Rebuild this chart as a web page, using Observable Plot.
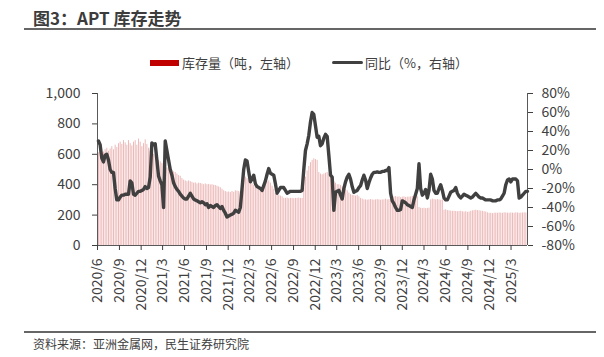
<!DOCTYPE html>
<html>
<head>
<meta charset="utf-8">
<script src="https://cdn.jsdelivr.net/npm/d3@7"></script>
<script src="https://cdn.jsdelivr.net/npm/@observablehq/plot@0.6"></script>
<style>
  html, body { margin: 0; padding: 0; background: #fff; }
  #wrap { position: relative; width: 604px; height: 357px; overflow: hidden;
          font-family: "Noto Sans CJK SC", "Noto Sans", sans-serif; color: #404040; }
  .title { position: absolute; left: 33px; top: 9px; font-size: 17px; line-height: 17px;
           font-weight: 700; color: #3c3c3c; white-space: nowrap; }
  .rule { position: absolute; left: 24px; width: 572px; height: 1.5px; background: #666; }
  .leg { position: absolute; top: 55.5px; font-size: 13px; line-height: 13px; white-space: nowrap; color: #404040; }
  .sw { position: absolute; }
  .src { position: absolute; left: 33px; top: 337px; font-size: 12px; line-height: 13px; white-space: nowrap; color: #404040; }
  #chart { position: absolute; left: 0; top: 80px; }
</style>
</head>
<body>
<div id="wrap">
  <div class="title">图3：APT 库存走势</div>
  <div class="rule" style="top:28px"></div>
  <div class="sw" style="left:150px;top:59.5px;width:29px;height:6px;background:#c00000"></div>
  <div class="leg" style="left:182px">库存量（吨，左轴）</div>
  <div class="sw" style="left:332px;top:60.5px;width:31px;height:3.5px;background:#404040;border-radius:2px"></div>
  <div class="leg" style="left:365px">同比（%，右轴）</div>
  <div id="chart"></div>
  <div class="rule" style="top:331px"></div>
  <div class="src">资料来源：亚洲金属网，民生证券研究院</div>
</div>
<script>
// Weekly observations, first week ending 2020-06-05
const firstWeek = [2020, 5, 5];
const stockTons = [
  610, 625, 600, 615, 630,
  640, 620, 635, 650, 630, 660, 645,
  670, 680, 665, 690, 675, 660, 690, 670, 655, 680,
  690, 660, 700, 680, 650, 670, 695, 665,
  640, 620, 600,
  600, 590, 580, 560, 550,
  540, 530, 520, 510, 515, 505,
  495, 485, 480, 470, 460, 455,
  440, 430, 425, 420, 425, 420,
  415, 410, 412, 405, 410, 408, 404, 400, 405,
  400, 402, 398, 400, 396, 395,
  390, 385, 380, 370, 360, 355,
  350, 352, 348, 355, 350, 360, 358, 355, 350,
  400, 430, 450, 440, 430, 420,
  405, 395, 385, 380, 378, 375, 372, 380, 400,
  420, 425, 410, 390, 370,
  340, 330, 330, 325, 320,
  310, 310, 312, 308, 310, 310, 308, 310, 310, 312, 310, 310,
  380, 450, 490, 520, 545, 560,
  570, 565, 560,
  480, 470, 465, 470, 475, 480,
  470, 450, 440, 420,
  410, 400, 400, 395, 385, 380, 370, 360, 345,
  335, 330, 330, 325, 330, 320,
  310, 305, 300, 300, 298, 300, 302, 300, 298, 300, 302, 300, 298, 300,
  300, 305, 300, 302,
  320, 318, 320, 322, 318, 320, 315, 318, 320, 316, 318, 318, 320, 322, 320, 318, 320,
  250, 245, 243, 245, 242, 244, 246,
  300, 305, 302, 300, 302, 300, 298, 300,
  232, 235, 230, 228, 226, 225, 225, 224, 222, 224, 225, 222, 220, 222, 218, 220, 225, 228, 230,
  232, 230, 228, 226, 225, 222, 220, 215, 212, 212,
  210, 212, 213, 212, 214, 213, 212, 215, 214, 213, 212, 214, 213, 212, 215, 214, 212, 213, 214, 215, 214, 215
];
const yoyPct = [
  30, 26, 12, 8, 15, 16, 10, 0, -3, -3,
  -20, -32, -32, -29, -27, -27, -26, -26, -26, -12,
  -14, -26, -27, -25, -23, -23, -22, -21, -18, -20,
  -19, -8, 28, 26, 27, 10, -7, -12, -16, -40,
  30, 20, 10, 0, -6, -14, -18, -21, -23, -26,
  -28, -30, -31, -31, -28, -25, -28, -31, -32, -33,
  -34, -35, -34, -35, -37, -36, -40, -38, -39, -40,
  -38, -37, -39, -41, -39, -43, -46, -50, -49, -48,
  -47, -46, -43, -44, -45, -40, -20, 0, 10, 9,
  -2, -13, -10, -6, -15, -18, -19, -20, -22, -17,
  -12, -5, 1, -4, -5, -6, -15, -25, -22, -19,
  -19, -19, -22, -25, -24, -23, -23, -23, -23, -23,
  -23, -23, -22, 0, 20, 27, 36, 50, 60, 58,
  46, 34, 35, 25, 27, 33, 37, 35, 15, -6,
  -8, -43, -24, -23, -22, -27, -31, -20, -13, -8,
  -5, -10, -18, -24, -23, -22, -19, -17, -11, -6,
  -11, -20, -14, -9, -5, -3, -3, -2.5, -3, -3,
  -2, -2, -1, -1, 2, -25, -33, -36, -40, -43,
  -43, -42, -33, -34, -35, -37, -38, -39, -40, -32,
  -26, -20, 6, -20, -27, -25, -21, -30, -22, -5,
  -10, -22, -25, -25, -20, -16, -22, -30, -32, -32,
  -28, -24, -23, -22, -19, -25, -28, -30, -28, -26,
  -27, -28, -29, -30, -29, -27, -25, -27, -29, -30,
  -30, -31, -32, -32, -32, -32, -33, -33, -33, -32,
  -32, -31, -28, -25, -16, -11, -10, -13, -10, -10,
  -10, -12, -30, -29, -27, -25, -23, -23
];
const xTickLabels = ["2020/6","2020/9","2020/12","2021/3","2021/6","2021/9","2021/12","2022/3","2022/6","2022/9","2022/12","2023/3","2023/6","2023/9","2023/12","2024/3","2024/6","2024/9","2024/12","2025/3"];
const leftTicks = [0, 200, 400, 600, 800, 1000];
const rightTicks = [-80, -60, -40, -20, 0, 20, 40, 60, 80];

const data = stockTons.map((s, i) => ({
  date: new Date(Date.UTC(firstWeek[0], firstWeek[1], firstWeek[2] + 7 * i)),
  stock: s,
  yoy: yoyPct[i]
}));
const xStart = new Date(Date.UTC(2020, 5, 1));
const xEnd = data[data.length - 1].date;
const tickDates = xTickLabels.map(s => { const [y, m] = s.split("/").map(Number); return new Date(Date.UTC(y, m - 1, 1)); });
const fmtDate = d => `${d.getUTCFullYear()}/${d.getUTCMonth() + 1}`;
// right axis (%) shares the left axis range: -80..80 -> 0..1000
const toLeft = p => (p + 80) * 1000 / 160;
const fromLeft = v => Math.round(v * 160 / 1000 - 80);

const chart = Plot.plot({
  width: 604,
  height: 240,
  marginTop: 13,
  marginBottom: 75,
  marginLeft: 97,
  marginRight: 77,
  style: { fontFamily: "'Noto Sans CJK SC', 'Noto Sans', sans-serif", fontSize: "14px", color: "#404040", background: "transparent", overflow: "visible" },
  x: { type: "utc", domain: [xStart, xEnd], label: null },
  y: { domain: [0, 1000], label: null },
  marks: [
    Plot.ruleX(data, { x: "date", y1: 0, y2: "stock", stroke: "#c00000", strokeOpacity: 0.28, strokeWidth: 1 }),
    Plot.ruleX([xStart], { stroke: "#595959", strokeWidth: 1 }),
    Plot.ruleX([xEnd], { stroke: "#595959", strokeWidth: 1 }),
    Plot.ruleY([0], { stroke: "#595959", strokeWidth: 1 }),
    Plot.line(data, { x: "date", y: d => toLeft(d.yoy), stroke: "#404040", strokeWidth: 3.4, strokeLinejoin: "round", strokeLinecap: "round" }),
    Plot.axisY({ anchor: "left", ticks: leftTicks, tickFormat: d3.format(","), tickSize: 5, tickPadding: 12, label: null, fontSize: 14 }),
    Plot.axisY({ anchor: "right", ticks: rightTicks.map(toLeft), tickFormat: v => fromLeft(v) + "%", tickSize: 5, tickPadding: 9, label: null, fontSize: 14 }),
    Plot.axisX({ ticks: tickDates, tickFormat: fmtDate, tickRotate: -90, tickSize: 5, tickPadding: 8, label: null, fontSize: 14 })
  ]
});
document.getElementById("chart").appendChild(chart);
</script>
</body>
</html>
